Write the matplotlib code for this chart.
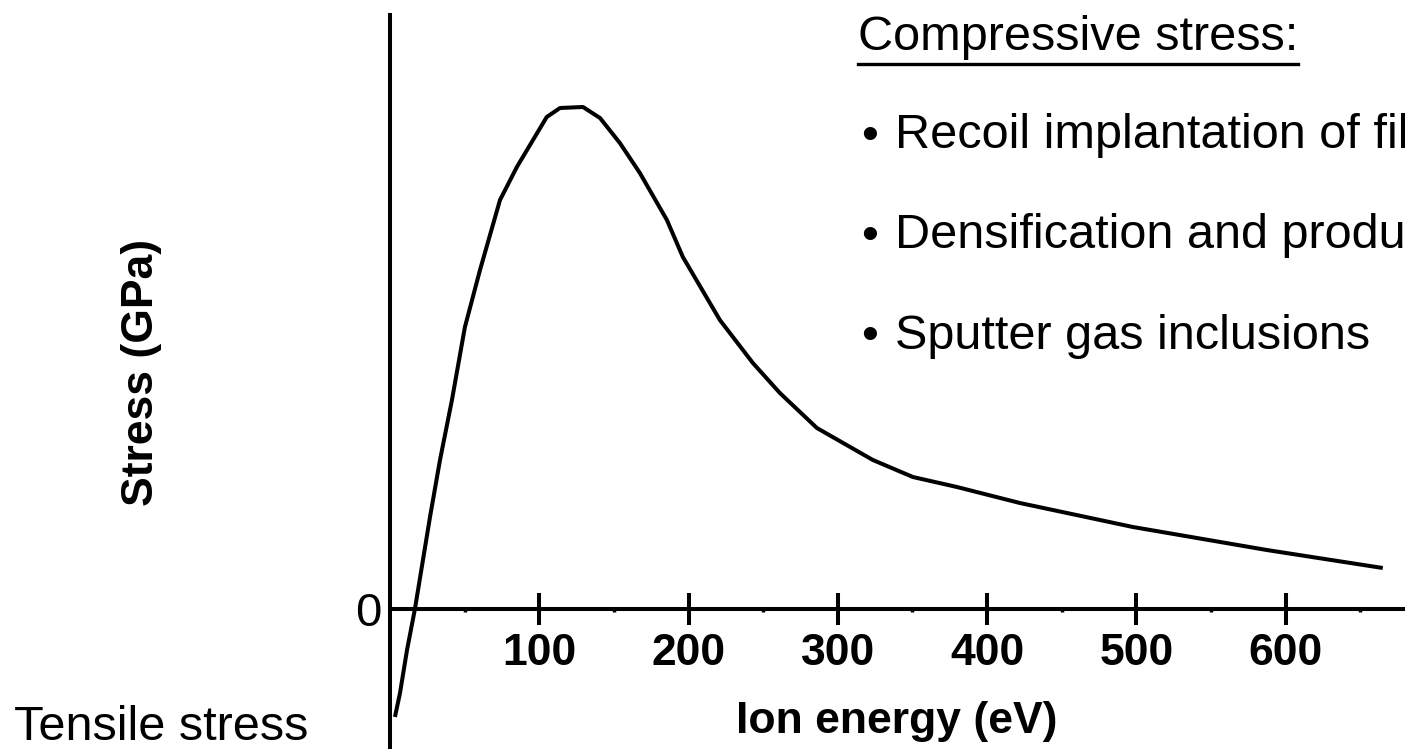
"""Stress vs ion energy sketch: compressive peak, tensile dip at low energy."""

import matplotlib

matplotlib.use("Agg")
import matplotlib.pyplot as plt
from matplotlib.lines import Line2D

plt.rcParams["font.family"] = ["Liberation Sans", "DejaVu Sans"]

# curve (stress in arbitrary units, 0 = film unstressed)
energy_ev = [3.3, 6.7, 11.4, 16.7, 26.8, 33.5, 41.5, 50.2, 60.3, 73.7, 85.0,
             95.8, 105.0, 113.9, 129.3, 140.7, 154.0, 167.4, 185.5, 196.2,
             221.0, 243.1, 261.2, 286.0, 323.5, 350.3, 379.8, 422.0, 497.7,
             587.4, 665.1]
stress = [-1.08, -0.84, -0.41, 0.0, 0.92, 1.49, 2.09, 2.82, 3.39, 4.09, 4.42,
          4.69, 4.92, 5.01, 5.02, 4.91, 4.66, 4.36, 3.89, 3.52,
          2.89, 2.46, 2.16, 1.81, 1.49, 1.32, 1.22, 1.06, 0.82,
          0.59, 0.41]

major_ticks = [100, 200, 300, 400, 500, 600]
minor_ticks = [50, 150, 250, 350, 450, 550, 650]

header = "Compressive stress:"
bullets = [
    "Recoil implantation of film atoms",
    "Densification and production of defects",
    "Sputter gas inclusions",
]

W, H = 1405, 749
fig = plt.figure(figsize=(W / 100, H / 100), dpi=100)
ax = fig.add_axes([390 / W, 0, (W - 390) / W, (H - 15) / H])

lw = 2.9
ax.plot(energy_ev, stress, color="black", lw=lw, solid_capstyle="butt")
ax.set_xlim(0, 680)
ax.set_ylim(-1.40, 5.94)

for side in ("top", "right"):
    ax.spines[side].set_visible(False)
ax.spines["bottom"].set_position(("data", 0))
ax.spines["left"].set_linewidth(lw)
ax.spines["bottom"].set_linewidth(lw)

ax.set_xticks(major_ticks)
ax.set_xticklabels([str(t) for t in major_ticks], fontsize=32, fontweight="bold")
ax.set_xticks(minor_ticks, minor=True)
ax.tick_params(axis="x", which="major", direction="inout", length=23, width=lw, pad=6)
ax.tick_params(axis="x", which="minor", direction="out", length=2, width=2.5)

ax.set_yticks([0])
ax.set_yticklabels(["0"], fontsize=34)
ax.tick_params(axis="y", length=0, pad=6)

fs = 35
fig.text(897 / W, 1 - 722 / H, "Ion energy (eV)", fontsize=32, fontweight="bold",
         ha="center", va="center")
fig.text(141 / W, 1 - 372 / H, "Stress (GPa)", fontsize=32, fontweight="bold",
         rotation=90, ha="center", va="center")
fig.text(14 / W, 1 - 727 / H, "Tensile stress", fontsize=fs, ha="left", va="center")

head = fig.text(858 / W, 1 - 38 / H, header, fontsize=fs, ha="left", va="center")
for i, b in enumerate(bullets):
    y = 1 - (136 + 100 * i) / H
    fig.text(861 / W, y, "\u2022", fontsize=fs, ha="left", va="center")
    fig.text(895 / W, y, b, fontsize=fs, ha="left", va="center")

# underline the header
fig.canvas.draw()
bb = head.get_window_extent().transformed(fig.transFigure.inverted())
fig.add_artist(Line2D([bb.x0, bb.x1], [1 - 64 / H] * 2, color="black", lw=2.4,
                      transform=fig.transFigure))

fig.savefig("out.png", dpi=100)
